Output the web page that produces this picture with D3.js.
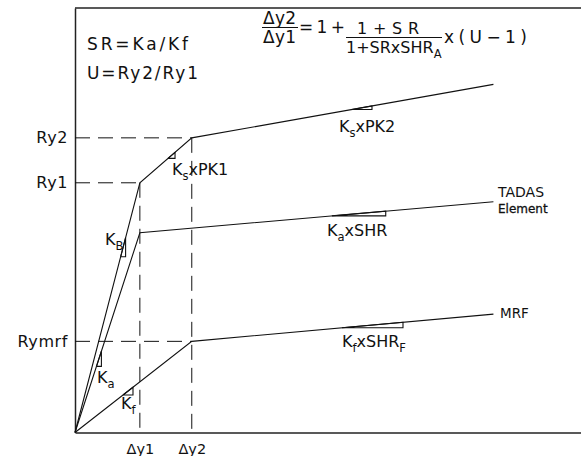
<!DOCTYPE html>
<html>
<head>
<meta charset="utf-8">
<title>TADAS</title>
<script src="https://d3js.org/d3.v7.min.js"></script>
<style>
    body { margin: 0; background: #fff; }
    text { font-family: "DejaVu Sans", Arial, sans-serif; fill: #111; }
</style>
</head>
<body>
<div id="chart"></div>
<script>
// values, scaled so that Δy1 = 1 and Ry1 = 1
const xTicks = [1.0, 1.8];
const xTickLabels = ["Δy1", "Δy2"];
const yTicks = [0.365, 1.0, 1.18];
const yTickLabels = ["Rymrf", "Ry1", "Ry2"];

// the three curves, [displacement, force]
const braceLine = [[0, 0], [1.0, 1.0], [1.8, 1.18], [6.45, 1.394]];
const tadasLine = [[0, 0], [1.0, 0.80], [6.45, 0.924]];
const mrfLine = [[0, 0], [1.8, 0.365], [6.45, 0.474]];

// yield points that get dashed guides (hor = to y axis, ver = down to x axis)
const guidePoints = [[1.0, 1.0], [1.8, 1.18], [1.8, 0.365]];
const guideVertical = [true, true, false];

// slope triangles: curve, segment index, x from, x to
const slopeCurve = ["brace", "tadas", "mrf", "brace", "brace", "tadas", "mrf"];
const slopeSeg = [0, 0, 0, 1, 2, 1, 1];
const slopeFrom = [0.704, 0.331, 0.740, 1.434, 4.27, 3.96, 4.116];
const slopeTo = [0.780, 0.407, 0.894, 1.542, 4.578, 4.79, 5.056];

const curves = {brace: braceLine, tadas: tadasLine, mrf: mrfLine};

let W = 581, H = 456;
let font = "'DejaVu Sans', Arial, sans-serif";

let svg = d3.select("#chart")
    .append("svg")
    .attr("width", W)
    .attr("height", H);

let x = d3.scaleLinear().domain([0, 7.8]).range([75, 581]);
let y = d3.scaleLinear().domain([0, 1.7]).range([432.5, 8]);

// frame: top line, then the two axes
svg.append("line")
    .attr("x1", x(0)).attr("x2", x(7.8))
    .attr("y1", y(1.7)).attr("y2", y(1.7))
    .attr("stroke", "#222").attr("stroke-width", 1.5);

let yAxis = d3.axisLeft(y)
    .tickValues(yTicks)
    .tickFormat((d, i) => yTickLabels[i])
    .tickSize(0)
    .tickPadding(7);

let xAxis = d3.axisBottom(x)
    .tickValues(xTicks)
    .tickFormat((d, i) => xTickLabels[i])
    .tickSize(0)
    .tickPadding(11);

let gy = svg.append("g")
    .attr("transform", "translate(" + x(0) + ",0)")
    .call(yAxis);
let gx = svg.append("g")
    .attr("transform", "translate(0," + y(0) + ")")
    .call(xAxis);

[gx, gy].forEach(g => {
    g.select(".domain").attr("stroke", "#222").attr("stroke-width", 1.5);
    g.selectAll("text")
        .attr("font-family", font)
        .attr("fill", "#111");
});
gy.selectAll("text").attr("font-size", 16).style("letter-spacing", "0.6px");
gx.selectAll("text").attr("font-size", 14.5);

// dashed guides
let dash = "15,8";
guidePoints.forEach((p, i) => {
    svg.append("line")
        .attr("x1", x(0)).attr("x2", x(p[0]))
        .attr("y1", y(p[1])).attr("y2", y(p[1]))
        .attr("stroke", "#111").attr("stroke-dasharray", dash);
    if (guideVertical[i]) {
        svg.append("line")
            .attr("x1", x(p[0])).attr("x2", x(p[0]))
            .attr("y1", y(p[1])).attr("y2", y(0))
            .attr("stroke", "#111").attr("stroke-dasharray", dash);
    }
});

// curves
let line = d3.line().x(d => x(d[0])).y(d => y(d[1]));
Object.keys(curves).forEach(k => {
    svg.append("path")
        .attr("d", line(curves[k]))
        .attr("fill", "none")
        .attr("stroke", "#111")
        .attr("stroke-width", 1.1);
});

// slope triangles under each segment
function yOn(pts, seg, xv) {
    let a = pts[seg], b = pts[seg + 1];
    return a[1] + (b[1] - a[1]) * (xv - a[0]) / (b[0] - a[0]);
}
slopeCurve.forEach((c, i) => {
    let pts = curves[c];
    let x0 = slopeFrom[i], x1 = slopeTo[i];
    let y0 = yOn(pts, slopeSeg[i], x0), y1 = yOn(pts, slopeSeg[i], x1);
    svg.append("path")
        .attr("d", line([[x0, y0], [x1, y1], [x1, y0], [x0, y0]]))
        .attr("fill", "none")
        .attr("stroke", "#111")
        .attr("stroke-width", 1.1);
});

// labels with subscripts: parts are [text, isSub]
function label(px, py, parts, size, spacing) {
    let t = svg.append("text")
        .attr("x", px).attr("y", py)
        .attr("font-size", size)
        .style("letter-spacing", (spacing || 0) + "px");
    let down = false;
    parts.forEach(p => {
        let s = t.append("tspan").text(p[0]);
        if (p[1] && !down) { s.attr("dy", 5).attr("font-size", size * 0.72); down = true; }
        else if (p[1]) { s.attr("font-size", size * 0.72); }
        else if (down) { s.attr("dy", -5); down = false; }
    });
    return t;
}

label(105, 245, [["K"], ["B", 1]], 16);
label(97, 383, [["K"], ["a", 1]], 16);
label(121, 409, [["K"], ["f", 1]], 16);
label(172, 175, [["K"], ["s", 1], ["xPK1"]], 16);
label(339, 132, [["K"], ["s", 1], ["xPK2"]], 16);
label(327, 236, [["K"], ["a", 1], ["xSHR"]], 16);
label(342, 347, [["K"], ["f", 1], ["xSHR"], ["F", 1]], 16);

label(498, 197, [["TADAS"]], 14);
label(498, 213, [["Element"]], 12).attr("stroke", "#111").attr("stroke-width", 0.3);
label(500, 318, [["MRF"]], 13.5);

// definitions
svg.append("text").attr("x", 87).attr("y", 50).attr("font-size", 17)
    .attr("textLength", 101).attr("lengthAdjust", "spacing").text("SR=Ka/Kf");
svg.append("text").attr("x", 87).attr("y", 79).attr("font-size", 17)
    .attr("textLength", 111).attr("lengthAdjust", "spacing").text("U=Ry2/Ry1");

// formula
svg.append("text").attr("x", 263).attr("y", 24).attr("font-size", 17)
    .attr("textLength", 33).attr("lengthAdjust", "spacing").text("Δy2");
svg.append("line").attr("x1", 262).attr("x2", 298).attr("y1", 27.5).attr("y2", 27.5)
    .attr("stroke", "#111").attr("stroke-width", 1.2);
svg.append("text").attr("x", 263).attr("y", 43).attr("font-size", 17)
    .attr("textLength", 33).attr("lengthAdjust", "spacing").text("Δy1");
svg.append("text").attr("x", 299).attr("y", 33).attr("font-size", 17)
    .attr("textLength", 46).attr("lengthAdjust", "spacing").text("=1+");
svg.append("text").attr("x", 357).attr("y", 34).attr("font-size", 16)
    .attr("textLength", 62).attr("lengthAdjust", "spacing").text("1+SR");
svg.append("line").attr("x1", 346).attr("x2", 442).attr("y1", 37.5).attr("y2", 37.5)
    .attr("stroke", "#111").attr("stroke-width", 1.2);
label(346, 53, [["1+SRxSHR"], ["A", 1]], 16);
svg.append("text").attr("x", 444).attr("y", 43).attr("font-size", 17)
    .attr("textLength", 83).attr("lengthAdjust", "spacing").text("x(U−1)");
</script>
</body>
</html>
